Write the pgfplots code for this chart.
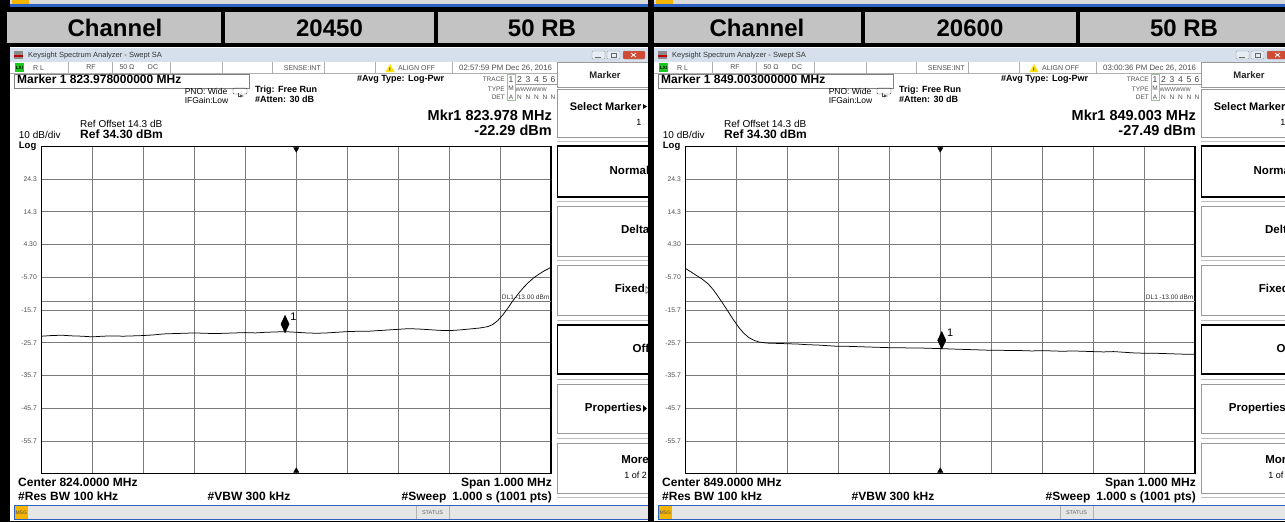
\documentclass[border=0pt]{standalone}
\usepackage{fontspec}
\setmainfont{Liberation Sans}
\usepackage{pgfplots}
\usepackage{pgfplotstable}
\pgfplotsset{compat=1.18}
\definecolor{hdr}{HTML}{C3C3C3}
\definecolor{winblue}{HTML}{2E62C0}
\definecolor{msgor}{HTML}{F4B400}
\definecolor{lxi}{HTML}{1EC81E}
\definecolor{tbar}{HTML}{D6E0EC}
\definecolor{tbbot}{HTML}{E6EDF5}
\definecolor{cellg}{HTML}{B0B0B0}
\definecolor{txtg}{HTML}{505050}
\definecolor{closered}{HTML}{D04A34}
\definecolor{stbar}{HTML}{E6E6E6}
\newcommand\fs[1]{\fontsize{#1}{#1}\selectfont}

\pgfplotstableread{
f p
823.500 -23.7
823.520 -23.5
823.540 -23.4
823.560 -23.6
823.580 -23.7
823.600 -23.9
823.620 -23.7
823.640 -23.6
823.660 -23.7
823.680 -23.6
823.700 -23.5
823.720 -23.3
823.740 -23.0
823.760 -22.9
823.780 -22.8
823.800 -22.7
823.820 -22.8
823.840 -22.9
823.860 -22.8
823.880 -22.7
823.900 -22.6
823.920 -22.7
823.940 -22.5
823.960 -22.4
823.978 -22.3
824.000 -22.5
824.020 -22.7
824.040 -22.8
824.060 -22.7
824.080 -22.5
824.100 -22.3
824.120 -22.2
824.140 -22.2
824.160 -22.0
824.180 -21.8
824.200 -21.6
824.220 -21.4
824.240 -21.5
824.260 -21.7
824.280 -21.9
824.300 -22.0
824.320 -21.8
824.340 -21.5
824.360 -21.2
824.375 -20.8
824.385 -20.2
824.395 -19.0
824.405 -17.3
824.415 -15.2
824.425 -12.9
824.435 -10.9
824.445 -9.0
824.455 -7.4
824.465 -6.0
824.475 -4.9
824.485 -3.9
824.495 -3.1
824.500 -2.6
}\leftdata

\pgfplotstableread{
f p
848.500 -3.0
848.510 -4.0
848.520 -5.0
848.533 -6.3
848.545 -7.8
848.555 -9.6
848.565 -11.8
848.575 -14.1
848.585 -16.5
848.595 -18.9
848.605 -21.1
848.615 -22.9
848.625 -24.2
848.635 -25.0
848.645 -25.5
848.660 -25.8
848.680 -25.9
848.700 -26.0
848.720 -26.1
848.740 -26.3
848.760 -26.4
848.780 -26.6
848.800 -26.8
848.820 -26.8
848.840 -26.9
848.860 -27.0
848.880 -27.1
848.900 -27.2
848.920 -27.2
848.940 -27.3
848.960 -27.3
848.980 -27.4
849.003 -27.49
849.020 -27.6
849.040 -27.7
849.060 -27.8
849.080 -27.9
849.100 -28.0
849.120 -28.0
849.140 -28.1
849.160 -28.1
849.180 -28.2
849.200 -28.1
849.220 -28.2
849.240 -28.3
849.260 -28.2
849.280 -28.3
849.300 -28.4
849.320 -28.5
849.340 -28.4
849.360 -28.6
849.380 -28.8
849.400 -28.9
849.420 -28.9
849.440 -29.0
849.460 -29.1
849.480 -29.2
849.500 -29.2
}\rightdata

% #1 = horizontal offset, #2 = table, #3 = centre frequency (MHz)
\newcommand\Panel[3]{%
\begin{scope}[x=1pt,y=-1pt,xshift=#1pt]
 \fill[black!15] (10,0) rectangle (648,4);
 \fill[msgor] (12,0) rectangle (29,4);
 \fill[winblue] (10,4) rectangle (648,7);
 \fill[white] (10,47) rectangle (648,521);
 \fill[tbar] (10,48) rectangle (648,62);
 \fill[black!45] (14,51) rectangle (23,59);
 \fill[red!75!black] (14,55) rectangle (23,57);
 \node[anchor=mid west, font=\fs{7.5}, text=black!80, inner sep=0pt] at (28,55) {Keysight Spectrum Analyzer - Swept SA};
 \draw[fill=tbbot, draw=black!40, rounded corners=1pt] (592,51) rectangle (605,59);
 \draw[fill=tbbot, draw=black!40, rounded corners=1pt] (607,51) rectangle (620,59);
 \draw[fill=closered, draw=black!40, rounded corners=1pt] (623,51) rectangle (645,59);
 \draw[black!60] (595,57)--(601,57);
 \draw[black!60] (611,53) rectangle (616,57);
 \draw[white, line width=0.8pt] (631,53)--(636,57) (631,57)--(636,53);
 \draw[cellg] (10,73)--(557,73);
 \foreach \xx in {68,112,170,222,272,324,375,452} {\draw[cellg] (\xx,62)--(\xx,73);}
 \fill[lxi] (15,63) rectangle (24,72);
 \node[font=\fs{4.5}\bfseries, inner sep=0pt] at (19.5,67.5) {LXI};
 \begin{scope}[every node/.style={font=\fs{7}, text=txtg, inner sep=0pt}]
  \node[anchor=mid west] at (33,67.5) {R L};
  \node at (91,67.5) {RF};
  \node at (127,67.5) {50 Ω};
  \node at (153,67.5) {DC};
  \node[anchor=mid east] at (321,67.5) {SENSE:INT};
  \node[anchor=mid west] at (398,67.5) {ALIGN OFF};
  \node[anchor=mid west, font=\fs{7.8}] at (459,67.5) {\Ttext};
 \end{scope}
 \fill[yellow!85!orange] (385.5,72) -- (394.5,72) -- (390,64) -- cycle;
 \node[font=\fs{5}\bfseries, inner sep=0pt] at (390,69.5) {!};
 \draw[black!50] (14.5,74) rectangle (249,88);
 \node[anchor=mid west, font=\fs{12}\bfseries, inner sep=0pt] at (17,81) {\Mtext};
 \node[anchor=mid west, font=\fs{8.5}, inner sep=0pt] at (184.6,91.5) {PNO: Wide};
 \draw[rounded corners=1pt, black!70] (233,88) rectangle (247,94);
 \draw[black!70, -{latex}] (238,93)--(238,96)--(244,96);
 \node[anchor=mid west, font=\fs{8.5}, inner sep=0pt] at (184.6,101) {IFGain:Low};
 \node[anchor=mid west, font=\fs{9}\bfseries, inner sep=0pt] at (255,90) {Trig: Free Run};
 \node[anchor=mid west, font=\fs{9}\bfseries, inner sep=0pt] at (255,100) {\#Atten: 30 dB};
 \node[anchor=mid west, font=\fs{9}\bfseries, inner sep=0pt] at (357,79) {\#Avg Type: Log-Pwr};
 \begin{scope}[every node/.style={font=\fs{6.5}, text=txtg, inner sep=0pt}]
  \node[anchor=mid east] at (505,79) {TRACE};
  \node[anchor=mid east] at (505,88.5) {TYPE};
  \node[anchor=mid east] at (505,97) {DET};
  \node[font=\fs{8.5}, text=black!75] at (511,79.5) {1};
  \node[font=\fs{8.5}, text=black!75] at (519.5,79.5) {2};
  \node[font=\fs{8.5}, text=black!75] at (528,79.5) {3};
  \node[font=\fs{8.5}, text=black!75] at (536.5,79.5) {4};
  \node[font=\fs{8.5}, text=black!75] at (545,79.5) {5};
  \node[font=\fs{8.5}, text=black!75] at (553,79.5) {6};
  \node at (511,88.5) {M};
  \node[anchor=mid west, font=\fs{5.5}] at (515.5,88.5) {WWWWWW};
  \node at (511,97) {A};
  \node at (519.5,97) {N};
  \node at (528,97) {N};
  \node at (536.5,97) {N};
  \node at (545,97) {N};
  \node at (553,97) {N};
 \end{scope}
 \draw[green!40!black!40] (507,74) rectangle (515,100.5);
 \draw[black!40] (515.5,84.5)--(557,84.5);
 \node[anchor=mid east, font=\fs{14.5}\bfseries, inner sep=0pt] at (552,118) {\Mkrf};
 \node[anchor=mid east, font=\fs{14.5}\bfseries, inner sep=0pt] at (552,133) {\Mkrv};
 \node[anchor=mid west, font=\fs{10}, inner sep=0pt] at (80,125) {Ref Offset 14.3 dB};
 \node[anchor=mid west, font=\fs{10}, inner sep=0pt] at (18.7,136) {10 dB/div};
 \node[anchor=mid west, font=\fs{12}\bfseries, inner sep=0pt] at (80,136) {Ref 34.30 dBm};
 \node[anchor=mid west, font=\fs{9.5}\bfseries, inner sep=0pt] at (18.7,145.5) {Log};
 \node[anchor=mid west, font=\fs{12}\bfseries, inner sep=0pt] at (18,484) {\Ctr};
 \node[anchor=mid east, font=\fs{12}\bfseries, inner sep=0pt] at (552,484) {Span 1.000 MHz};
 \node[anchor=mid west, font=\fs{12}\bfseries, inner sep=0pt] at (18,497.5) {\#Res BW 100 kHz};
 \node[anchor=mid west, font=\fs{12}\bfseries, inner sep=0pt] at (207.5,497.5) {\#VBW 300 kHz};
 \node[anchor=mid east, font=\fs{12}\bfseries, inner sep=0pt] at (552,497.5) {\#Sweep\enspace 1.000 s (1001 pts)};
 \filldraw[fill=stbar, draw=winblue, line width=1pt] (14,505.5) rectangle (650,519);
 \fill[msgor] (14.5,506) rectangle (28,518.5);
 \node[font=\fs{5}, text=black!70, inner sep=0pt] at (21.2,512.3) {MSG};
 \draw[black!30] (416,506)--(416,518.5) (449,506)--(449,518.5);
 \node[font=\fs{5.5}, text=black!60, inner sep=0pt] at (432.5,512.3) {STATUS};
 \draw[black!40] (557,62) rectangle (652,87);
 \node[font=\fs{9.5}\bfseries, text=black!85, inner sep=0pt] at (605,75) {Marker};
 \draw[black!40] (557,89) rectangle (652,137);
 \node[anchor=mid east, font=\fs{11}\bfseries, inner sep=0pt] at (641.5,108) {Select Marker};
 \fill (643,104) -- (647,106.5) -- (643,109) -- cycle;
 \node[anchor=mid east, font=\fs{9}, inner sep=0pt] at (641.5,123) {1};
 \draw[black, line width=1.2pt] (557.5,146) rectangle (652,197);
 \node[anchor=mid east, font=\fs{11.5}\bfseries, inner sep=0pt] at (649.5,171.5) {Normal};
 \draw[black!40] (557,206) rectangle (652,256);
 \node[anchor=mid east, font=\fs{11.5}\bfseries, inner sep=0pt] at (649.5,231) {Delta};
 \draw[black!40] (557,265) rectangle (652,315);
 \node[anchor=mid east, font=\fs{11.5}\bfseries, inner sep=0pt] at (645,290) {Fixed};
 \draw[black!70, line width=0.6pt] (645.8,286.5) -- (650,290) -- (645.8,293.5) -- cycle;
 \draw[black, line width=1.2pt] (557.5,325) rectangle (652,374);
 \node[anchor=mid east, font=\fs{11.5}\bfseries, inner sep=0pt] at (649.5,349.5) {Off};
 \draw[black!40] (557,384) rectangle (652,433);
 \node[anchor=mid east, font=\fs{11.5}\bfseries, inner sep=0pt] at (642,408.5) {Properties};
 \fill (643,405) -- (647,408.5) -- (643,412) -- cycle;
 \draw[black!40] (557,443) rectangle (652,493);
 \node[anchor=mid east, font=\fs{11.5}\bfseries, inner sep=0pt] at (649,461) {More};
 \node[anchor=mid east, font=\fs{9}, inner sep=0pt] at (647,476) {1 of 2};
 \foreach \yy in {141.5,201.5,260.5,320,379,438.5,497} {\draw[black!25] (557,\yy)--(652,\yy);}
\end{scope}
\pgfmathsetmacro\AX{41.5+#1}
% x axis: frequency offset from the centre frequency #3, in MHz
\begin{axis}[at={(\AX pt,-146.25pt)}, anchor=north west, scale only axis,
  width=509.5pt, height=327.5pt,
  xmin=-0.5, xmax=0.5, ymin=-65.7, ymax=34.3,
  xtick={-0.5,-0.4,-0.3,-0.2,-0.1,0,0.1,0.2,0.3,0.4,0.5}, xticklabels={,,},
  ytick={-55.7,-45.7,-35.7,-25.7,-15.7,-5.7,4.3,14.3,24.3},
  yticklabels={-55.7,-45.7,-35.7,-25.7,-15.7,-5.70,4.30,14.3,24.3},
  yticklabel style={font=\fs{6.8}, text=txtg, inner sep=0pt},
  yticklabel shift=4.5pt,
  major tick length=0pt,
  grid=major, major grid style={black!52, line width=1pt},
  axis line style={line width=1.4pt},
  axis background/.style={fill=white},
  clip mode=individual]
 \addplot[black!52, line width=1pt] coordinates {(-0.5,-13) (0.5,-13)};
 \addplot[black, line width=0.75pt] table[x expr=\thisrow{f}-#3, y=p] {#2};
 \addplot[only marks, mark=diamond*, mark size=8.8pt, mark options={xscale=0.62, fill=black, draw=black}] coordinates {(\Dx,\Dy)};
 \addplot[only marks, mark=triangle*, mark size=3pt, mark options={rotate=180, fill=black}] coordinates {(0,33.4)};
 \addplot[only marks, mark=triangle*, mark size=3pt, mark options={fill=black}] coordinates {(0,-64.8)};
 \node[font=\fs{11}, inner sep=0pt, xshift=8.5pt, yshift=7.5pt] at (axis cs:\Dx,\Dy) {1};
 \node[font=\fs{6.5}, text=black!80, anchor=mid east, inner sep=0pt, xshift=-1.5pt, yshift=4pt] at (axis cs:0.5,-13) {DL1 -13.00 dBm};
\end{axis}
}

\begin{document}
\begin{tikzpicture}
\useasboundingbox (0pt,0pt) rectangle (1285pt,-522pt);
\clip (0pt,0pt) rectangle (1285pt,-522pt);
\begin{scope}[x=1pt,y=-1pt]
\fill[black] (0,0) rectangle (1285,522);
\fill[hdr] (7,12) rectangle (648,43);
\fill[hdr] (654,12) rectangle (1285,43);
\fill[black] (221,12) rectangle (225,43);
\fill[black] (434,12) rectangle (438,43);
\fill[black] (861,12) rectangle (865,43);
\fill[black] (1076,12) rectangle (1080,43);
\node[font=\fs{24}\bfseries] at (115,28) {Channel};
\node[font=\fs{24}\bfseries] at (329.5,28) {20450};
\node[font=\fs{24}\bfseries] at (542,28) {50 RB};
\node[font=\fs{24}\bfseries] at (757,28) {Channel};
\node[font=\fs{24}\bfseries] at (970,28) {20600};
\node[font=\fs{24}\bfseries] at (1184,28) {50 RB};
\end{scope}
% left panel (marker at 823.978 MHz, centre 824 MHz)
\def\Mtext{Marker 1 823.978000000 MHz}
\def\Ttext{02:57:59 PM Dec 26, 2016}
\def\Mkrf{Mkr1 823.978 MHz}
\def\Mkrv{-22.29 dBm}
\def\Ctr{Center 824.0000 MHz}
\def\Dx{-0.022}\def\Dy{-20.0}
\Panel{0}{\leftdata}{824}
\fill[black] (648pt,0pt) rectangle (654pt,-522pt);
% right panel (marker at 849.003 MHz, centre 849 MHz)
\def\Mtext{Marker 1 849.003000000 MHz}
\def\Ttext{03:00:36 PM Dec 26, 2016}
\def\Mkrf{Mkr1 849.003 MHz}
\def\Mkrv{-27.49 dBm}
\def\Ctr{Center 849.0000 MHz}
\def\Dx{0.003}\def\Dy{-24.95}
\Panel{644}{\rightdata}{849}
\end{tikzpicture}
\end{document}
